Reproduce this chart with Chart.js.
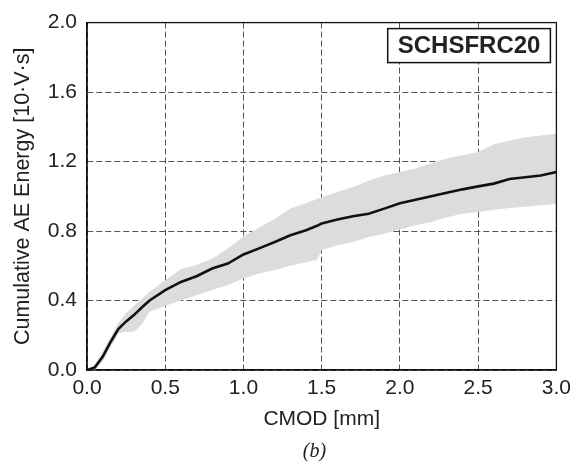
<!DOCTYPE html>
<html>
<head>
<meta charset="utf-8">
<script src="https://cdn.jsdelivr.net/npm/chart.js@4/dist/chart.umd.min.js"></script>
<style>
  html, body { margin: 0; padding: 0; background: #ffffff; }
  #wrap { width: 577px; height: 469px; position: relative; }
</style>
</head>
<body>
<div id="wrap"><canvas id="c" width="577" height="469"></canvas></div>
<script>
// ---- data ----
const cmod = [0, 0.05, 0.1, 0.15, 0.2, 0.25, 0.3, 0.35, 0.4,
  0.5, 0.6, 0.7, 0.8, 0.9, 1.0, 1.1, 1.2, 1.3, 1.4, 1.47,
  1.5, 1.6, 1.7, 1.8, 1.9, 2.0, 2.1, 2.2, 2.3, 2.4, 2.5, 2.6, 2.7, 2.8, 2.9, 3.0];
const meanEnergy = [0, 0.015, 0.076, 0.16, 0.235, 0.28, 0.316, 0.36, 0.40,
  0.46, 0.507, 0.54, 0.584, 0.613, 0.665, 0.70, 0.737, 0.776, 0.805, 0.83,
  0.843, 0.866, 0.885, 0.90, 0.929, 0.96, 0.98, 1.0, 1.02, 1.04, 1.057, 1.073, 1.10, 1.11, 1.12, 1.14];
const upperEnergy = [0, 0.03, 0.105, 0.19, 0.27, 0.33, 0.368, 0.41, 0.45,
  0.517, 0.58, 0.605, 0.64, 0.70, 0.77, 0.82, 0.87, 0.93, 0.96, 0.985,
  0.996, 1.025, 1.053, 1.09, 1.12, 1.14, 1.16, 1.19, 1.217, 1.236, 1.255, 1.30, 1.32, 1.34, 1.35, 1.36];
const lowerEnergy = [0, 0.0, 0.048, 0.13, 0.21, 0.22, 0.22, 0.26, 0.335,
  0.368, 0.40, 0.43, 0.46, 0.49, 0.527, 0.555, 0.575, 0.60, 0.62, 0.635,
  0.69, 0.718, 0.737, 0.766, 0.785, 0.81, 0.833, 0.852, 0.88, 0.90, 0.91, 0.923, 0.933, 0.94, 0.948, 0.955];
const xTicks = [0, 0.5, 1.0, 1.5, 2.0, 2.5, 3.0];
const yTicks = [0, 0.4, 0.8, 1.2, 1.6, 2.0];
const seriesLabel = 'SCHSFRC20';
const xTitle = 'CMOD [mm]';
const yTitle = 'Cumulative AE Energy [10·V·s]';
const caption = '(b)';

const toPts = (ys) => cmod.map((x, i) => ({ x: x, y: ys[i] }));

const FONT = '"Liberation Sans", Arial, Helvetica, sans-serif';
const TXT = '#222222';

const frameAndLabels = {
  id: 'frameAndLabels',
  afterDraw(chart) {
    const { ctx, chartArea: a } = chart;
    ctx.save();
    // full frame
    ctx.strokeStyle = '#111111';
    ctx.lineWidth = 1.3;
    ctx.setLineDash([]);
    ctx.strokeRect(a.left, a.top, a.right - a.left, a.bottom - a.top);
    // series label box
    ctx.font = 'bold 24px ' + FONT;
    const tw = ctx.measureText(seriesLabel).width;
    const bw = tw + 20, bh = 34;
    const bx = a.right - 6 - bw, by = a.top + 6;
    ctx.fillStyle = '#ffffff';
    ctx.fillRect(bx, by, bw, bh);
    ctx.lineWidth = 1.5;
    ctx.strokeRect(bx, by, bw, bh);
    ctx.fillStyle = TXT;
    ctx.textAlign = 'center';
    ctx.textBaseline = 'middle';
    ctx.fillText(seriesLabel, bx + bw / 2, by + bh / 2 + 1);
    // caption
    ctx.font = 'italic 20px "Liberation Serif", "Times New Roman", serif';
    ctx.fillText(caption, chart.width / 2 + 26, 452);
    ctx.restore();
  }
};

new Chart(document.getElementById('c'), {
  type: 'line',
  data: {
    datasets: [
      { label: 'upper', data: toPts(upperEnergy), borderWidth: 0, borderColor: 'rgba(0,0,0,0)',
        backgroundColor: '#dcdcdd', pointRadius: 0, fill: '+1', tension: 0, order: 2 },
      { label: 'lower', data: toPts(lowerEnergy), borderWidth: 0, borderColor: 'rgba(0,0,0,0)',
        backgroundColor: '#dcdcdd', pointRadius: 0, fill: false, tension: 0, order: 2 },
      { label: 'mean', data: toPts(meanEnergy), borderWidth: 2.6, borderColor: '#111111',
        pointRadius: 0, fill: false, tension: 0, order: 1 }
    ]
  },
  options: {
    responsive: false,
    animation: false,
    devicePixelRatio: 1,
    layout: { padding: { left: 0, right: 17, top: 22, bottom: 0 } },
    plugins: { legend: { display: false }, tooltip: { enabled: false } },
    scales: {
      x: {
        type: 'linear', min: 0, max: 3,
        afterBuildTicks: (s) => { s.ticks = xTicks.map(v => ({ value: v })); },
        afterFit: (s) => { s.height = 99; },
        ticks: { color: TXT, font: { family: FONT, size: 21 }, padding: 6,
                 callback: (v) => Number(v).toFixed(1), maxRotation: 0 },
        grid: { color: '#555555', lineWidth: 1, drawTicks: false },
        border: { display: true, color: '#111111', width: 1.3, dash: [6, 3] },
        title: { display: true, text: xTitle, color: TXT, font: { family: FONT, size: 21 },
                 padding: { top: 0, bottom: 37 } }
      },
      y: {
        type: 'linear', min: 0, max: 2,
        afterBuildTicks: (s) => { s.ticks = yTicks.map(v => ({ value: v })); },
        afterFit: (s) => { s.width = 87; },
        ticks: { color: TXT, font: { family: FONT, size: 21 }, padding: 10,
                 callback: (v) => Number(v).toFixed(1) },
        grid: { color: '#555555', lineWidth: 1, drawTicks: false },
        border: { display: true, color: '#111111', width: 1.3, dash: [6, 3] },
        title: { display: true, text: yTitle, color: TXT, font: { family: FONT, size: 21.5 },
                 padding: { top: 10, bottom: 0 } }
      }
    }
  },
  plugins: [frameAndLabels]
});
</script>
</body>
</html>
